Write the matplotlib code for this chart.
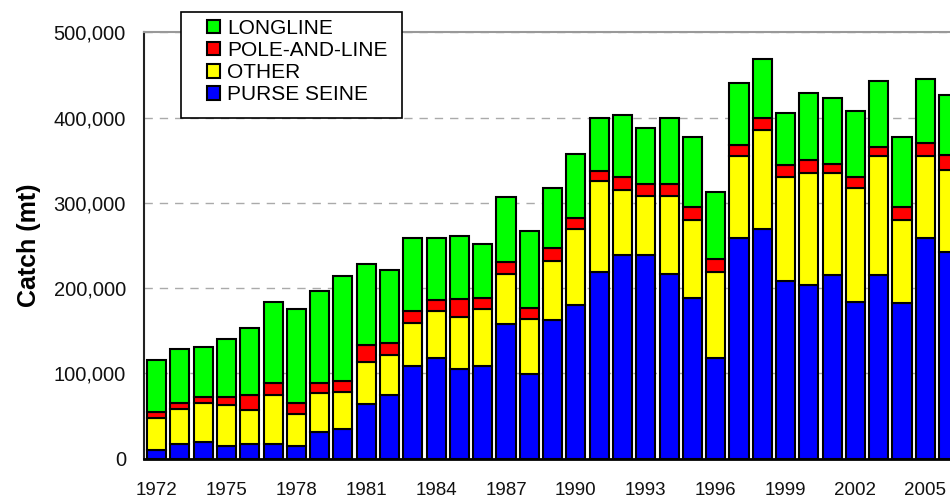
import numpy as np
import matplotlib
matplotlib.use("Agg")
import matplotlib.pyplot as plt
from matplotlib.patches import Rectangle
from matplotlib.ticker import FuncFormatter

plt.rcParams['font.family'] = ['Liberation Sans', 'DejaVu Sans']

# catch by gear (thousand mt)
years = list(range(1972, 2007))
purse_seine = [10.3, 17, 19, 15, 17, 17, 15, 30.7, 35, 63.5,
               74, 109, 118, 105, 109, 157.7, 99, 162, 179.6, 219,
               239, 239, 217, 188.5, 118, 258.5, 269.5, 208, 204, 214.7,
               184, 214.7, 182, 258.5, 242]
other = [36.7, 40.6, 46, 48, 39.5, 57, 37.5, 46.3, 43, 50,
         48, 50, 54.5, 61.5, 66, 58.3, 65, 70, 89.4, 106,
         76, 69.5, 91.5, 91.5, 100.6, 96.5, 115.5, 122, 130.7, 120,
         133, 139.9, 98, 96.1, 97]
pole_and_line = [7, 7.4, 7, 9, 17.5, 15, 12.5, 12, 13, 19.5,
                 13, 13.5, 14, 20.5, 13, 14, 13, 15, 13, 12,
                 15, 13.5, 13.5, 15, 15.4, 13, 14, 14, 15.3, 10.9,
                 13, 11.4, 15.6, 15.4, 17]
longline = [61, 64, 59, 68, 79, 95, 110, 108, 123, 95,
            86, 86, 72, 74.5, 64, 76.6, 90, 70.5, 75, 62,
            73, 66, 77, 82, 79, 72.6, 69.7, 61, 79, 77.4,
            77.7, 77, 81.4, 75, 71]
tick_years = list(range(1972, 2006, 3))

series = [("PURSE SEINE", purse_seine, "#0000FF"),
          ("OTHER", other, "#FFFF00"),
          ("POLE-AND-LINE", pole_and_line, "#FF0000"),
          ("LONGLINE", longline, "#00FF00")]

W, H = 950, 498
fig = plt.figure(figsize=(W / 100, H / 100), dpi=100)
ax = fig.add_axes([144 / W, 1 - 458.5 / H, 1 - 144 / W, (458.5 - 32.3) / H])

bottom = np.zeros(len(years))
handles = []
for name, vals, col in series:
    v = np.array(vals) * 1000
    b = ax.bar(years, v, bottom=bottom, width=0.82, color=col,
               edgecolor="black", linewidth=1.5, label=name, zorder=3)
    bottom += v
    handles.append(b)

ax.set_xlim(1971.46, 2006.06)
ax.set_ylim(0, 500000)
ax.set_yticks(range(0, 500001, 100000))
ax.yaxis.set_major_formatter(FuncFormatter(lambda x, p: f"{int(x):,}"))
ax.set_xticks(tick_years)
ax.tick_params(axis="y", length=0, pad=13, labelsize=14.5, labelcolor="#111111")
ax.tick_params(axis="x", length=0, pad=17, labelsize=13.5, labelcolor="#111111")

ax.grid(axis="y", color="#aaaaaa", linestyle=(0, (6, 5)), linewidth=1, zorder=0)
ax.spines["right"].set_visible(False)
ax.spines["top"].set_color("#999999")
ax.spines["top"].set_linewidth(1.5)
ax.spines["left"].set_color("#222222")
ax.spines["left"].set_linewidth(1.5)
ax.spines["bottom"].set_color("black")
ax.spines["bottom"].set_linewidth(2)

ax.set_ylabel("Catch (mt)", fontsize=18, fontweight="bold")
ax.yaxis.set_label_coords((41 - 144) / 806, 0.5)

# legend box drawn separately so the padding matches the original
fig.patches.append(Rectangle((181 / W, 1 - 118 / H), 221 / W, 106 / H,
                             transform=fig.transFigure, facecolor="white",
                             edgecolor="black", linewidth=1.2, zorder=9))
leg = fig.legend(handles[::-1], [s[0] for s in series[::-1]],
                 loc="upper left", bbox_to_anchor=(205 / W, 1 - 17 / H),
                 fontsize=15, frameon=False,
                 handlelength=0.6, handleheight=0.6, handletextpad=0.35,
                 labelspacing=0.15, borderpad=0.1, borderaxespad=0)
leg.set_zorder(10)

fig.savefig("out.png", dpi=100)
